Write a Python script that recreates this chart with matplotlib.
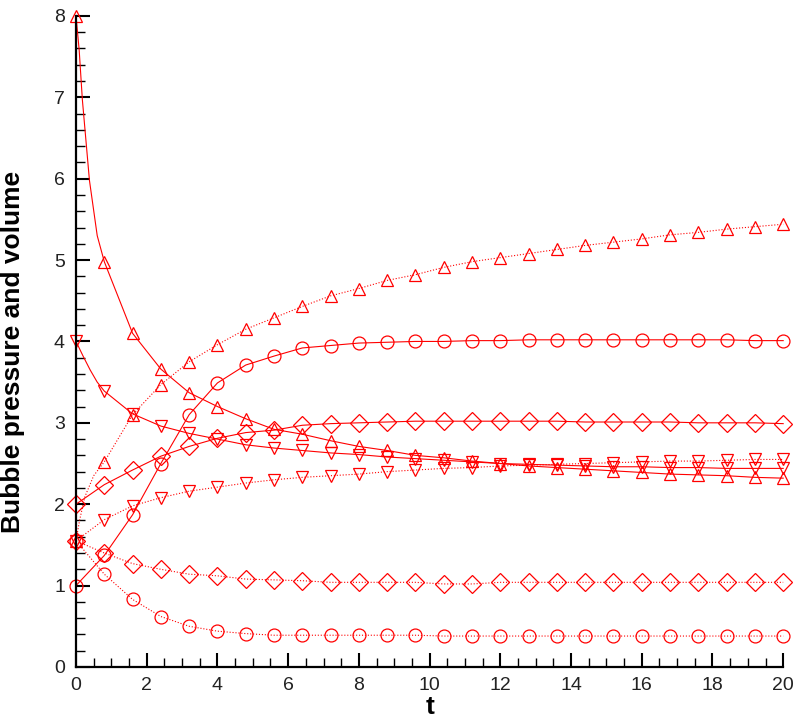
import numpy as np
import matplotlib.pyplot as plt

plt.rcParams['font.family'] = ['Liberation Sans', 'DejaVu Sans']

# marker times: every 0.8 from 0 to 20
t = [0.0, 0.8, 1.6, 2.4, 3.2, 4.0, 4.8, 5.6, 6.4, 7.2, 8.0, 8.8, 9.6,
     10.4, 11.2, 12.0, 12.8, 13.6, 14.4, 15.2, 16.0, 16.8, 17.6, 18.4, 19.2, 20.0]

# solid curves
up_solid = [8.0, 4.98, 4.10, 3.66, 3.37, 3.20, 3.05, 2.92, 2.86, 2.78, 2.71, 2.66, 2.60,
            2.57, 2.53, 2.50, 2.47, 2.45, 2.43, 2.41, 2.39, 2.37, 2.36, 2.35, 2.33, 2.32]
down_solid = [4.0, 3.39, 3.11, 2.96, 2.87, 2.80, 2.73, 2.69, 2.66, 2.63, 2.61, 2.58, 2.56,
              2.54, 2.52, 2.50, 2.49, 2.48, 2.47, 2.46, 2.46, 2.45, 2.45, 2.44, 2.44, 2.44]
circ_solid = [1.0, 1.37, 1.87, 2.50, 3.10, 3.49, 3.71, 3.82, 3.92, 3.95, 3.98, 3.99, 4.00,
              4.00, 4.01, 4.01, 4.02, 4.02, 4.02, 4.02, 4.02, 4.02, 4.02, 4.02, 4.01, 4.01]
diam_solid = [2.0, 2.24, 2.42, 2.59, 2.71, 2.81, 2.88, 2.91, 2.97, 2.99, 3.00, 3.01, 3.02,
              3.02, 3.02, 3.02, 3.02, 3.02, 3.01, 3.01, 3.01, 3.01, 3.00, 3.00, 3.00, 2.99]

# dotted curves
up_dot = [1.55, 2.52, 3.10, 3.47, 3.75, 3.96, 4.15, 4.29, 4.43, 4.56, 4.65, 4.75, 4.82,
          4.91, 4.98, 5.03, 5.08, 5.13, 5.18, 5.22, 5.26, 5.31, 5.34, 5.38, 5.41, 5.44]
down_dot = [1.55, 1.81, 1.98, 2.08, 2.16, 2.21, 2.26, 2.30, 2.33, 2.35, 2.37, 2.40, 2.42,
            2.44, 2.45, 2.47, 2.48, 2.49, 2.50, 2.51, 2.52, 2.53, 2.53, 2.54, 2.55, 2.55]
diam_dot = [1.55, 1.40, 1.27, 1.20, 1.14, 1.12, 1.08, 1.07, 1.06, 1.04, 1.04, 1.04, 1.04,
            1.02, 1.02, 1.04, 1.04, 1.04, 1.04, 1.04, 1.04, 1.04, 1.04, 1.04, 1.04, 1.04]
circ_dot = [1.55, 1.14, 0.83, 0.62, 0.50, 0.44, 0.41, 0.39, 0.39, 0.39, 0.39, 0.39, 0.39,
            0.38, 0.38, 0.38, 0.38, 0.38, 0.38, 0.38, 0.38, 0.38, 0.38, 0.38, 0.38, 0.38]

up_solid_head_t = [0.09, 0.18, 0.38, 0.6]
up_solid_head_v = [7.58, 6.97, 5.98, 5.30]
down_solid_head_t = [0.2, 0.4, 0.6]
down_solid_head_v = [3.82, 3.65, 3.50]
up_dot_head_t = [0.1, 0.25, 0.5]
up_dot_head_v = [1.80, 2.09, 2.35]

red = '#ff0000'

fig = plt.figure(figsize=(8, 7.23), dpi=100)
ax = fig.add_axes([0.095, 0.0775, 0.884, 0.9005])


def draw(values, marker, ls, ms, head_t=None, head_v=None):
    xs = list(t)
    ys = list(values)
    marks = list(range(len(t)))
    if head_t:
        xs = [t[0]] + head_t + xs[1:]
        ys = [values[0]] + head_v + ys[1:]
        n = len(head_t)
        marks = [0] + [i + n for i in range(1, len(t))]
    ax.plot(xs, ys, color=red, lw=0.8, ls=ls, marker=marker, ms=ms,
            mfc='none', mec=red, mew=0.9, markevery=marks, clip_on=False)


draw(up_solid, '^', '-', 9.3, up_solid_head_t, up_solid_head_v)
draw(down_solid, 'v', '-', 9.3, down_solid_head_t, down_solid_head_v)
draw(circ_solid, 'o', '-', 9.3)
draw(diam_solid, 'D', '-', 9.0)
draw(up_dot, '^', ':', 9.3, up_dot_head_t, up_dot_head_v)
draw(down_dot, 'v', ':', 9.3)
draw(diam_dot, 'D', ':', 9.0)
draw(circ_dot, 'o', ':', 9.3)

ax.set_xlim(0, 20)
ax.set_ylim(0, 8)
ax.set_xticks(np.arange(0, 21, 2))
ax.set_yticks(np.arange(0, 9, 1))
ax.set_xticks(np.arange(0, 20.01, 0.5), minor=True)
ax.set_yticks(np.arange(0, 8.01, 0.2), minor=True)
ax.tick_params(which='major', direction='in', length=10, width=1.5, labelsize=14,
               labelcolor='#222222')
ax.tick_params(axis='x', which='major', pad=7)
ax.tick_params(axis='y', which='major', pad=8)
ax.tick_params(which='minor', direction='in', length=6.5, width=1)
for side in ['top', 'right']:
    ax.spines[side].set_visible(False)
for side in ['left', 'bottom']:
    ax.spines[side].set_linewidth(1.6)

ax.set_xlabel('t', fontsize=19, fontweight='bold', labelpad=1)
ax.set_ylabel('Bubble pressure and volume', fontsize=19, fontweight='bold')
ax.yaxis.set_label_coords(-0.072, 0.484)

fig.savefig('out.png', dpi=100)
